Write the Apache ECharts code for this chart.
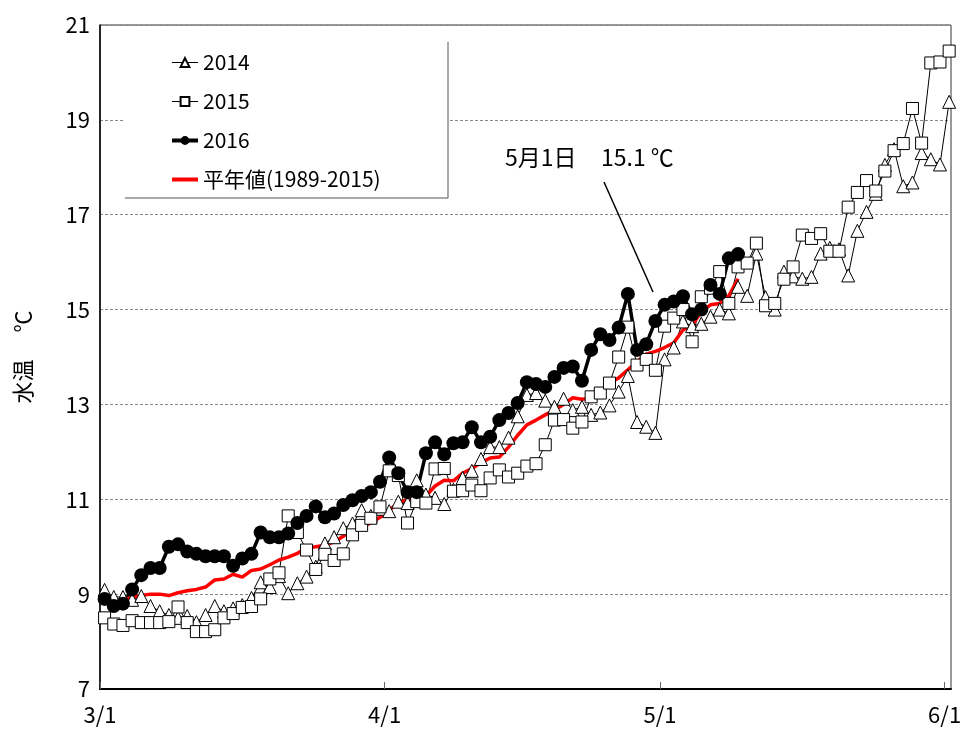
<!DOCTYPE html>
<html>
<head>
<meta charset="utf-8">
<title>水温</title>
<script src="https://cdn.jsdelivr.net/npm/echarts@6/dist/echarts.min.js"></script>
<style>
html, body { margin: 0; padding: 0; background: #fff; }
#chart { width: 966px; height: 731px; }
</style>
</head>
<body>
<div id="chart"></div>
<script>
// day index from 3/1 (0) to 6/1 (92)
var tickDays = [0, 31, 61, 92];
var tickLabels = ['3/1', '4/1', '5/1', '6/1'];

var y2014 = [
    9.09, 8.94, 8.94, 8.88, 8.96, 8.75, 8.64, 8.56, 8.50, 8.54,
    8.41, 8.56, 8.75, 8.64, 8.70, 8.77, 8.92, 9.25, 9.15, 9.38,
    9.02, 9.23, 9.37, 9.58, 10.07, 10.20, 10.39, 10.49, 10.77, 10.65,
    10.80, 10.75, 10.95, 10.92, 11.40, 11.10, 11.03, 10.90, 11.20, 11.45,
    11.60, 11.85, 12.10, 12.10, 12.30, 12.75, 13.20, 13.24, 13.08, 12.95,
    13.12, 12.88, 12.95, 12.78, 12.83, 12.98, 13.27, 13.60, 12.63, 12.53,
    12.40, 13.95, 14.20, 14.75, 14.65, 14.70, 14.85, 15.00, 14.92, 15.48,
    15.29, 16.18, 15.26, 15.00, 15.80, 15.70, 15.65, 15.69, 16.18, 16.30,
    16.27, 15.72, 16.66, 17.06, 17.44, 18.05, 18.38, 17.60, 17.68, 18.30,
    18.17, 18.06, 19.38
];
var y2015 = [
    8.50, 8.37, 8.34, 8.44, 8.40, 8.40, 8.40, 8.42, 8.73, 8.40,
    8.21, 8.21, 8.25, 8.50, 8.59, 8.72, 8.74, 8.90, 9.32, 9.45,
    10.65, 10.30, 9.93, 9.52, 9.84, 9.71, 9.85, 10.25, 10.45, 10.60,
    10.84, 11.60, 11.50, 10.50, 10.95, 10.92, 11.64, 11.65, 11.17, 11.18,
    11.30, 11.18, 11.45, 11.62, 11.47, 11.55, 11.70, 11.75, 12.15, 12.67,
    12.68, 12.50, 12.63, 13.16, 13.24, 13.45, 14.00, 14.63, 13.83, 13.95,
    13.72, 14.65, 14.82, 15.00, 14.32, 15.27, 15.45, 15.80, 15.13, 15.90,
    15.98, 16.40, 15.08, 15.13, 15.64, 15.90, 16.57, 16.50, 16.60, 16.23,
    16.23, 17.16, 17.47, 17.72, 17.50, 17.92, 18.35, 18.50, 19.24, 18.51,
    20.20, 20.22, 20.45
];
var y2016 = [
    8.90, 8.75, 8.80, 9.10, 9.40, 9.55, 9.55, 10.00, 10.05, 9.90,
    9.85, 9.80, 9.80, 9.80, 9.60, 9.75, 9.85, 10.30, 10.20, 10.20,
    10.28, 10.50, 10.65, 10.85, 10.62, 10.70, 10.88, 10.98, 11.07, 11.15,
    11.37, 11.88, 11.55, 11.15, 11.15, 11.97, 12.20, 11.95, 12.18, 12.20,
    12.52, 12.20, 12.32, 12.67, 12.82, 13.03, 13.47, 13.43, 13.37, 13.58,
    13.77, 13.80, 13.50, 14.15, 14.48, 14.36, 14.62, 15.33, 14.15, 14.27,
    14.76, 15.10, 15.17, 15.28, 14.90, 15.00, 15.52, 15.33, 16.08, 16.17
];
var yNormal = [
    8.88, 8.82, 8.88, 8.93, 8.97, 9.00, 9.00, 8.97, 9.03, 9.07,
    9.10, 9.15, 9.30, 9.32, 9.42, 9.36, 9.50, 9.53, 9.62, 9.72,
    9.78, 9.86, 9.97, 10.00, 10.03, 10.10, 10.22, 10.38, 10.41, 10.50,
    10.62, 10.77, 10.92, 11.00, 11.05, 11.07, 11.28, 11.40, 11.39, 11.55,
    11.65, 11.77, 11.87, 11.89, 12.10, 12.35, 12.57, 12.67, 12.78, 12.88,
    13.00, 13.14, 13.11, 13.13, 13.24, 13.45, 13.56, 13.73, 13.90, 14.06,
    14.12, 14.20, 14.30, 14.57, 14.67, 14.95, 15.10, 15.13, 15.29, 15.65
];

// each day sits in the middle of its slot
function toPoints(arr) {
    var out = [];
    for (var i = 0; i < arr.length; i++) {
        out.push([i + 0.5, arr[i]]);
    }
    return out;
}

var font = '"Noto Sans CJK JP", "Noto Sans", sans-serif';
var mychart = echarts.init(document.getElementById('chart'));

var option = {
    animation: false,
    backgroundColor: '#fff',
    textStyle: { fontFamily: font, color: '#000' },
    grid: {
        left: 100, right: 15, top: 25, bottom: 42,
        show: true, borderColor: '#333', borderWidth: 1
    },
    legend: {
        orient: 'vertical',
        left: 165, top: 47,
        itemGap: 18,
        itemWidth: 26,
        itemHeight: 11,
        textStyle: { fontSize: 21, fontFamily: font, color: '#000', lineHeight: 21 },
        data: [
            { name: '2014', lineStyle: { width: 1 } },
            { name: '2015', lineStyle: { width: 1 } },
            { name: '2016', lineStyle: { width: 4 } },
            { name: '平年値(1989-2015)', lineStyle: { width: 4 }, itemStyle: { opacity: 0 } }
        ]
    },
    xAxis: {
        type: 'value',
        min: 0, max: 92.7,
        axisLine: { show: true, lineStyle: { color: '#000', width: 2 } },
        axisTick: {
            show: true, inside: true, length: 7,
            customValues: tickDays,
            lineStyle: { color: '#666', width: 1 }
        },
        axisLabel: {
            customValues: tickDays,
            fontSize: 22, margin: 15, color: '#000', fontFamily: font,
            formatter: function (v) {
                var i = tickDays.indexOf(v);
                return i >= 0 ? tickLabels[i] : '';
            }
        },
        splitLine: { show: false }
    },
    yAxis: {
        type: 'value',
        min: 7, max: 21, interval: 2,
        name: '水温　 ℃',
        nameLocation: 'middle',
        nameGap: 66,
        nameRotate: 90,
        nameTextStyle: { fontSize: 22, fontFamily: font, color: '#000' },
        axisLine: { show: true, lineStyle: { color: '#000', width: 1.5 } },
        axisTick: { show: false },
        axisLabel: { fontSize: 22, margin: 10, color: '#000', fontFamily: font },
        splitLine: { show: true, lineStyle: { color: '#888', width: 1, type: [3, 2] } }
    },
    graphic: [
        // legend panel
        { type: 'rect', left: 125, top: 26, z: 1, silent: true,
          shape: { width: 323, height: 172 }, style: { fill: '#fff' } },
        { type: 'polyline', z: 1, silent: true,
          shape: { points: [[448, 42], [448, 198], [125, 198]] },
          style: { stroke: '#555', lineWidth: 1, fill: null } },
        // annotation
        { type: 'text', left: 505, top: 146, z: 5,
          style: { text: '5月1日', font: '23px ' + font, fill: '#000' } },
        { type: 'text', left: 601, top: 146, z: 5,
          style: { text: '15.1 ℃', font: '23px ' + font, fill: '#000' } }
    ],
    series: [
        {
            name: '2014', type: 'line', clip: false,
            data: toPoints(y2014),
            symbol: 'triangle', symbolSize: 13,
            lineStyle: { color: '#000', width: 1 },
            itemStyle: { color: '#fff', borderColor: '#000', borderWidth: 1 }
        },
        {
            name: '2015', type: 'line', clip: false,
            data: toPoints(y2015),
            symbol: 'rect', symbolSize: 12,
            lineStyle: { color: '#000', width: 1 },
            itemStyle: { color: '#fff', borderColor: '#000', borderWidth: 1 }
        },
        {
            name: '2016', type: 'line', clip: false,
            data: toPoints(y2016),
            symbol: 'circle', symbolSize: 14,
            lineStyle: { color: '#000', width: 3.5 },
            itemStyle: { color: '#000', borderColor: '#000', borderWidth: 0 }
        },
        {
            name: '平年値(1989-2015)', type: 'line',
            data: toPoints(yNormal),
            symbol: 'none',
            lineStyle: { color: '#ff0000', width: 3.5 },
            itemStyle: { color: '#ff0000' },
            markLine: {
                silent: true, symbol: 'none', label: { show: false },
                lineStyle: { color: '#000', width: 1.5, type: 'solid' },
                data: [[{ coord: [54.9, 17.69] }, { coord: [60.24, 15.37] }]]
            }
        }
    ]
};
mychart.setOption(option);
</script>
</body>
</html>
